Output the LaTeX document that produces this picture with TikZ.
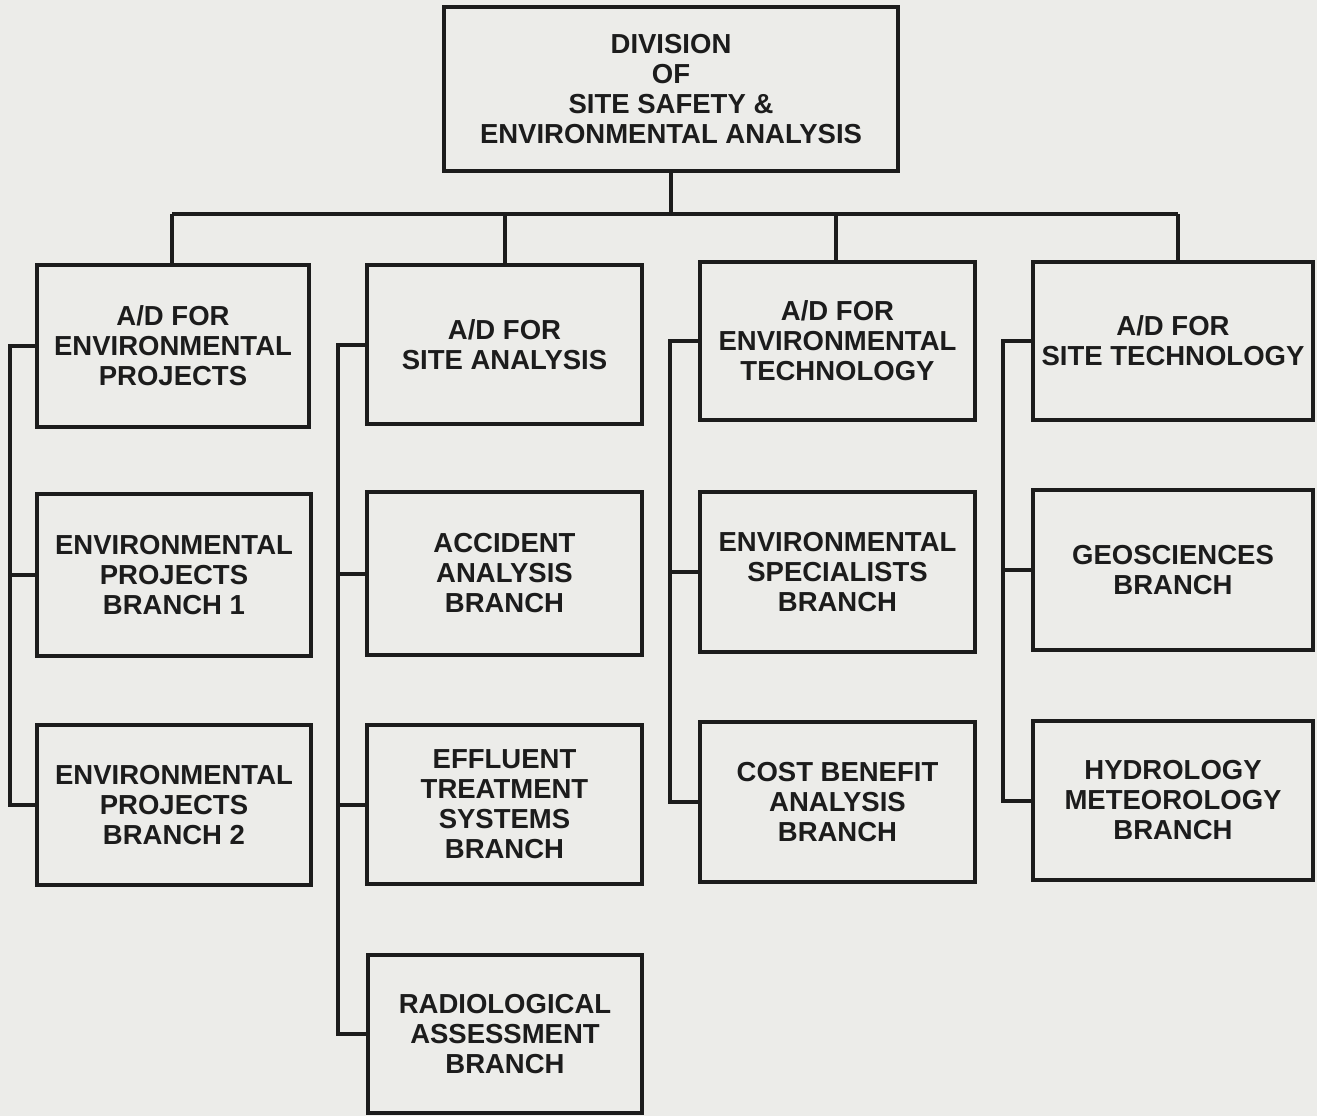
\documentclass[tikz,border=0pt]{standalone}
\usepackage{fontspec}
\setmainfont{Liberation Sans}
\definecolor{paper}{RGB}{236,236,233}
\definecolor{ink}{RGB}{28,28,28}
\begin{document}
\begin{tikzpicture}[x=1pt,y=-1pt,
  orgbox/.style={draw=ink, line width=4pt, fill=paper, inner sep=0pt,
    align=center, text=ink, font=\fontsize{27.5}{30}\selectfont\bfseries},
  link/.style={draw=ink, line width=4pt}]
\useasboundingbox[fill=paper] (0,0) rectangle (1317,1116);
% top
\node[orgbox, minimum width=454pt, minimum height=164pt] (top) at (671,89)
  {DIVISION\\OF\\SITE SAFETY \&\\ENVIRONMENTAL ANALYSIS};
% column 1
\node[orgbox, minimum width=272pt, minimum height=162pt] (a1) at (173,346)
  {A/D FOR\\ENVIRONMENTAL\\PROJECTS};
\node[orgbox, minimum width=274pt, minimum height=162pt] (a2) at (174,575)
  {ENVIRONMENTAL\\PROJECTS\\BRANCH 1};
\node[orgbox, minimum width=274pt, minimum height=160pt] (a3) at (174,805)
  {ENVIRONMENTAL\\PROJECTS\\BRANCH 2};
% column 2
\node[orgbox, minimum width=275pt, minimum height=159pt] (b1) at (504.5,344.5)
  {A/D FOR\\SITE ANALYSIS};
\node[orgbox, minimum width=275pt, minimum height=163pt] (b2) at (504.5,573.5)
  {ACCIDENT\\ANALYSIS\\BRANCH};
\node[orgbox, minimum width=275pt, minimum height=159pt] (b3) at (504.5,804.5)
  {EFFLUENT\\TREATMENT\\SYSTEMS\\BRANCH};
\node[orgbox, minimum width=274pt, minimum height=158pt] (b4) at (505,1034)
  {RADIOLOGICAL\\ASSESSMENT\\BRANCH};
% column 3
\node[orgbox, minimum width=275pt, minimum height=158pt] (c1) at (837.5,341)
  {A/D FOR\\ENVIRONMENTAL\\TECHNOLOGY};
\node[orgbox, minimum width=275pt, minimum height=160pt] (c2) at (837.5,572)
  {ENVIRONMENTAL\\SPECIALISTS\\BRANCH};
\node[orgbox, minimum width=275pt, minimum height=160pt] (c3) at (837.5,802)
  {COST BENEFIT\\ANALYSIS\\BRANCH};
% column 4
\node[orgbox, minimum width=280pt, minimum height=158pt] (d1) at (1173,341)
  {A/D FOR\\SITE TECHNOLOGY};
\node[orgbox, minimum width=280pt, minimum height=160pt] (d2) at (1173,570)
  {GEOSCIENCES\\BRANCH};
\node[orgbox, minimum width=280pt, minimum height=159pt] (d3) at (1173,800.5)
  {HYDROLOGY\\METEOROLOGY\\BRANCH};
% drop points on the top edges
\coordinate (a1top) at ([xshift=-1pt]a1.north);
\coordinate (b1top) at (b1.north);
\coordinate (c1top) at ([xshift=-2pt]c1.north);
\coordinate (d1top) at ([xshift=5pt]d1.north);
% bus
\draw[link] (top.south) -- ++(0,41) coordinate (bus);
\draw[link] (a1top |- bus) -- (d1top |- bus);
\foreach \n in {a1top,b1top,c1top,d1top} \draw[link] (\n |- bus) -- (\n);
% spines
\draw[link] (a1.west) -- ++(-25,0) |- (a3.west);
\draw[link] (a2.west) -- ++(-25,0);
\draw[link] (b1.west) -- ++(-27,0) |- (b4.west);
\draw[link] (b2.west) -- ++(-27,0);
\draw[link] (b3.west) -- ++(-27,0);
\draw[link] (c1.west) -- ++(-28,0) |- (c3.west);
\draw[link] (c2.west) -- ++(-28,0);
\draw[link] (d1.west) -- ++(-28,0) |- (d3.west);
\draw[link] (d2.west) -- ++(-28,0);
\end{tikzpicture}
\end{document}
